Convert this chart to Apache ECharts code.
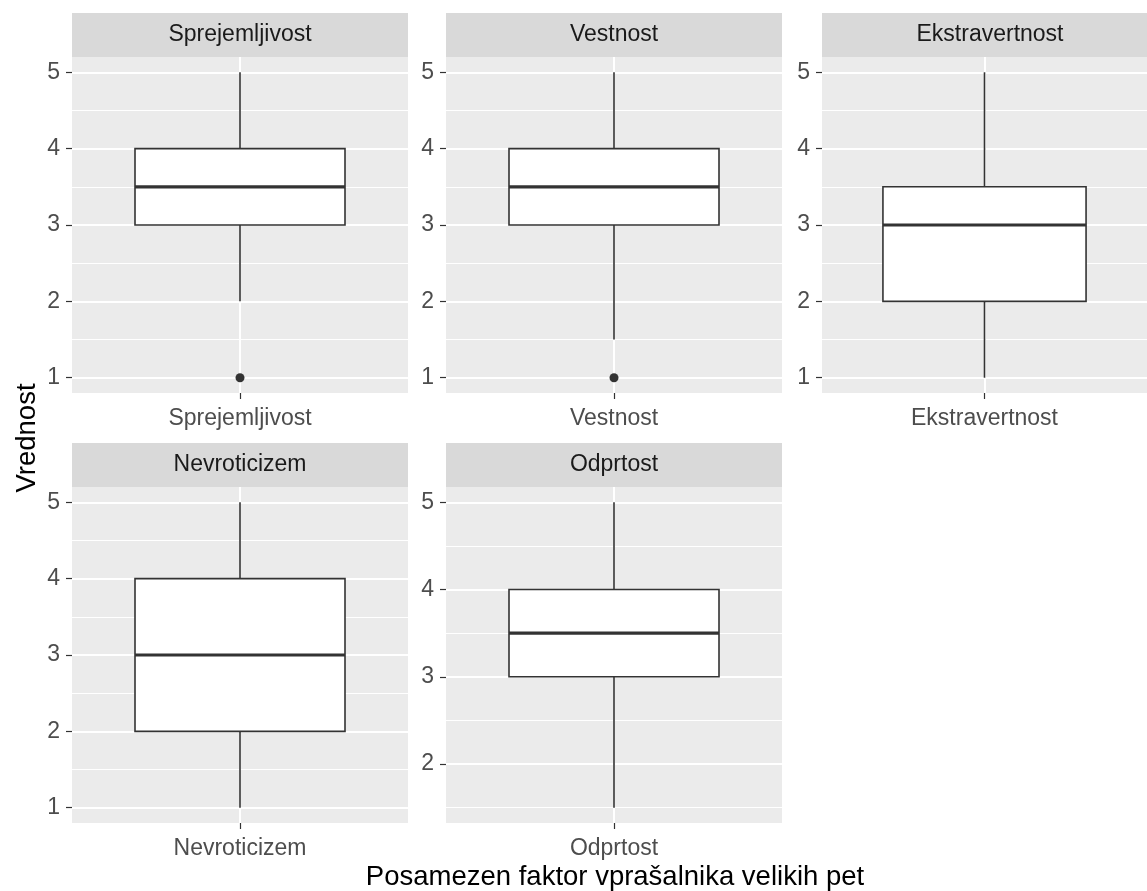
<!DOCTYPE html>
<html><head><meta charset="utf-8">
<script src="https://cdn.jsdelivr.net/npm/echarts@6/dist/echarts.min.js"></script>
<style>html,body{margin:0;padding:0;background:#fff}#c{width:1147px;height:891px}</style>
</head><body><div id="c"></div>
<script>
// ---- data ----
const factors = ['Sprejemljivost', 'Vestnost', 'Ekstravertnost', 'Nevroticizem', 'Odprtost'];
const whiskerLow  = [2, 1.5, 1, 1, 1.5];
const q1          = [3, 3, 2, 2, 3];
const median      = [3.5, 3.5, 3, 3, 3.5];
const q3          = [4, 4, 3.5, 4, 4];
const whiskerHigh = [5, 5, 5, 5, 5];
const outliers    = [[1], [1], [], [], []];
const yTicks = [[1, 2, 3, 4, 5], [1, 2, 3, 4, 5], [1, 2, 3, 4, 5], [1, 2, 3, 4, 5], [2, 3, 4, 5]];
const xTitle = 'Posamezen faktor vprašalnika velikih pet';
const yTitle = 'Vrednost';

// ---- layout ----
const FONT = '"Liberation Sans", Arial, sans-serif';
const panelPos = [[72, 57], [446, 57], [822, 57], [72, 487], [446, 487]];
const PW = 336, PH = 336, STRIP = 44;

const grids = [], xAxes = [], yAxes = [], series = [], graphics = [];

factors.forEach(function (f, i) {
  const left = panelPos[i][0], top = panelPos[i][1];
  const vals = [whiskerLow[i], whiskerHigh[i]].concat(outliers[i]);
  const lo = Math.min.apply(null, vals), hi = Math.max.apply(null, vals);
  const pad = (hi - lo) * 0.05;
  const yMin = lo - pad, yMax = hi + pad;

  grids.push({ left: left, top: top, width: PW, height: PH, show: true,
    backgroundColor: '#EBEBEB', borderWidth: 0, containLabel: false });

  xAxes.push({
    type: 'category', gridIndex: i, data: [f],
    axisLine: { show: false },
    axisTick: { show: true, alignWithLabel: true, length: 6, lineStyle: { color: '#333333', width: 1.2 } },
    axisLabel: { fontSize: 23, color: '#4D4D4D', fontFamily: FONT, margin: 14 },
    splitLine: { show: false }
  });

  yAxes.push({
    type: 'value', gridIndex: i, min: yMin, max: yMax,
    axisLine: { show: false },
    axisTick: { show: true, length: 6, customValues: yTicks[i], lineStyle: { color: '#333333', width: 1.2 } },
    axisLabel: { fontSize: 23, color: '#4D4D4D', fontFamily: FONT, margin: 12, customValues: yTicks[i] },
    splitLine: { show: false }
  });

  // grid lines (major + minor) via markLine
  const major = yTicks[i];
  const minorSet = [];
  major.forEach(function (t) { minorSet.push(t - 0.5); });
  minorSet.push(major[major.length - 1] + 0.5);
  const minor = minorSet.filter(function (v) { return v > yMin && v < yMax; });
  const mlData = [];
  minor.forEach(function (v) { mlData.push({ yAxis: v, lineStyle: { width: 1.1 } }); });
  major.forEach(function (v) { mlData.push({ yAxis: v, lineStyle: { width: 2 } }); });
  mlData.push({ xAxis: f, lineStyle: { width: 2 } });

  series.push({
    type: 'custom', xAxisIndex: i, yAxisIndex: i, z: 2,
    data: [[0, whiskerLow[i], q1[i], median[i], q3[i], whiskerHigh[i]]],
    encode: { x: 0, y: [1, 2, 3, 4, 5] },
    renderItem: function (params, api) {
      const x = api.value(0);
      const pLo = api.coord([x, api.value(1)]);
      const pQ1 = api.coord([x, api.value(2)]);
      const pMd = api.coord([x, api.value(3)]);
      const pQ3 = api.coord([x, api.value(4)]);
      const pHi = api.coord([x, api.value(5)]);
      const bw = api.size([1, 0])[0] * 0.625;
      const cx = pLo[0];
      const ls = { stroke: '#333333', lineWidth: 1.6, fill: null };
      return { type: 'group', children: [
        { type: 'line', shape: { x1: cx, y1: pHi[1], x2: cx, y2: pQ3[1] }, style: ls },
        { type: 'line', shape: { x1: cx, y1: pQ1[1], x2: cx, y2: pLo[1] }, style: ls },
        { type: 'rect', shape: { x: cx - bw / 2, y: pQ3[1], width: bw, height: pQ1[1] - pQ3[1] },
          style: { fill: '#FFFFFF', stroke: '#333333', lineWidth: 1.6 } },
        { type: 'line', shape: { x1: cx - bw / 2, y1: pMd[1], x2: cx + bw / 2, y2: pMd[1] },
          style: { stroke: '#333333', lineWidth: 3.2 } }
      ] };
    },
    markLine: {
      z: 1, silent: true, animation: false, symbol: ['none', 'none'],
      label: { show: false },
      lineStyle: { color: '#FFFFFF', type: 'solid' },
      emphasis: { disabled: true },
      data: mlData
    },
    silent: true
  });

  series.push({
    type: 'scatter', xAxisIndex: i, yAxisIndex: i, z: 3,
    data: outliers[i].map(function (v) { return [f, v]; }),
    symbol: 'circle', symbolSize: 9,
    itemStyle: { color: '#333333', opacity: 1 }, silent: true
  });

  // facet strip
  graphics.push({ type: 'rect', left: left, top: top - STRIP,
    shape: { width: PW, height: STRIP }, style: { fill: '#D9D9D9' }, silent: true });
  graphics.push({ type: 'text', x: left + PW / 2, y: top - STRIP / 2,
    style: { text: f, fontSize: 23, fontFamily: FONT, fill: '#1A1A1A', align: 'center', verticalAlign: 'middle' },
    silent: true });
});

// axis titles
graphics.push({ type: 'text', x: 615, y: 877,
  style: { text: xTitle, fontSize: 27.5, fontFamily: FONT, fill: '#000000', align: 'center', verticalAlign: 'middle' } });
graphics.push({ type: 'text', x: 27, y: 438, rotation: Math.PI / 2,
  style: { text: yTitle, fontSize: 27.5, fontFamily: FONT, fill: '#000000', align: 'center', verticalAlign: 'middle' } });

const chart = echarts.init(document.getElementById('c'), null, { renderer: 'canvas' });
chart.setOption({
  animation: false,
  backgroundColor: '#FFFFFF',
  grid: grids, xAxis: xAxes, yAxis: yAxes, series: series,
  graphic: { elements: graphics }
});
</script>
</body></html>
